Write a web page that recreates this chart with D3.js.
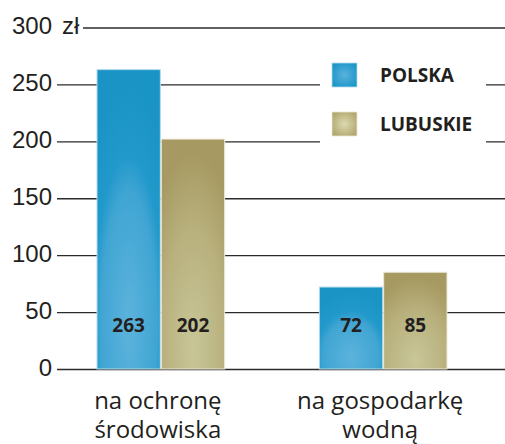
<!DOCTYPE html>
<html>
<head>
<meta charset="utf-8">
<script src="https://cdnjs.cloudflare.com/ajax/libs/d3/7.8.5/d3.min.js"></script>
<style>
	body { margin: 0; background: #fff; }
	svg { display: block; font-family: "Open Sans", sans-serif; }
	.tick line { stroke: #2b2b2b; stroke-width: 1.3px; }
	.tick text { fill: #231f20; font-size: 24px; }
</style>
</head>
<body>
<svg width="505" height="444"></svg>
<script>
var categories = [ [ 'na ochronę', 'środowiska' ], [ 'na gospodarkę', 'wodną' ] ];
var series = [ 'POLSKA', 'LUBUSKIE' ];
var polska = [ 263, 72 ];
var lubuskie = [ 202, 85 ];
var yTicks = [ 0, 50, 100, 150, 200, 250, 300 ];
var unit = 'zł';

var width = 505, height = 444;
var svg = d3.select( 'svg' );

var x = d3.scaleBand()
	.domain( d3.range( categories.length ) )
	.range( [ 97, 447 ] )
	.paddingInner( 0.426 )
	.paddingOuter( 0 );

var xs = d3.scaleBand()
	.domain( series )
	.range( [ 0, x.bandwidth() ] )
	.paddingInner( 0.015 );

var y = d3.scaleLinear()
	.domain( [ 0, 300 ] )
	.range( [ 369, 27.5 ] );

// gradients
var defs = svg.append( 'defs' );
function radial( id, cy, r, stops ) {
	var g = defs.append( 'radialGradient' )
		.attr( 'id', id )
		.attr( 'cx', 0.5 ).attr( 'cy', cy ).attr( 'r', r );
	stops.forEach( function( s ) {
		g.append( 'stop' ).attr( 'offset', s[0] ).attr( 'stop-color', s[1] );
	} );
}
radial( 'gBlue', 0.85, 0.8, [ [ 0, '#5cb3dc' ], [ 0.55, '#40a5d3' ], [ 0.7, '#2199cb' ], [ 1, '#1a93c5' ] ] );
radial( 'gTan', 0.9, 0.85, [ [ 0, '#c8c698' ], [ 0.6, '#b8b07d' ], [ 1, '#a69961' ] ] );
radial( 'sBlue', 0.5, 0.6, [ [ 0, '#5ab2dc' ], [ 1, '#1a95c8' ] ] );
radial( 'sTan', 0.5, 0.6, [ [ 0, '#dcdab0' ], [ 1, '#b0a56e' ] ] );
var fills = { 'POLSKA': 'url(#gBlue)', 'LUBUSKIE': 'url(#gTan)' };
var swatch = { 'POLSKA': 'url(#sBlue)', 'LUBUSKIE': 'url(#sTan)' };
var edge = { 'POLSKA': '#b5dcee', 'LUBUSKIE': '#ece9d6' };

// grid + tick labels
var axis = svg.append( 'g' )
	.attr( 'transform', 'translate(57,0)' )
	.call( d3.axisLeft( y )
		.tickValues( yTicks )
		.tickSize( -( width - 57 ) )
		.tickPadding( 5 ) );
axis.select( '.domain' ).remove();
axis.selectAll( '.tick text' ).attr( 'dy', '0.25em' );
axis.selectAll( '.tick' ).filter( function( d ) { return d === 300; } )
	.each( function() {
		d3.select( this ).select( 'line' ).attr( 'x1', 26 );
		d3.select( this ).append( 'text' )
			.attr( 'x', 5 ).attr( 'dy', '0.25em' )
			.attr( 'text-anchor', 'start' )
			.text( unit );
	} );

// legend background hides grid
svg.append( 'rect' )
	.attr( 'x', 320 ).attr( 'y', 45 )
	.attr( 'width', 166 ).attr( 'height', 115 )
	.attr( 'fill', '#fff' );

// bars
var groups = svg.selectAll( '.group' )
	.data( categories )
	.enter().append( 'g' )
		.attr( 'class', 'group' )
		.attr( 'transform', function( d, i ) { return 'translate(' + x( i ) + ',0)'; } );

groups.each( function( d, i ) {
	var vals = [ { s: 'POLSKA', v: polska[i] }, { s: 'LUBUSKIE', v: lubuskie[i] } ];
	var g = d3.select( this );
	g.selectAll( 'rect' )
		.data( vals )
		.enter().append( 'rect' )
			.attr( 'x', function( e ) { return xs( e.s ); } )
			.attr( 'y', function( e ) { return y( e.v ); } )
			.attr( 'width', xs.bandwidth() )
			.attr( 'height', function( e ) { return y( 0 ) - y( e.v ); } )
			.attr( 'fill', function( e ) { return fills[e.s]; } )
			.attr( 'stroke', function( e ) { return edge[e.s]; } )
			.attr( 'stroke-width', 1 );
	g.selectAll( '.val' )
		.data( vals )
		.enter().append( 'text' )
			.attr( 'class', 'val' )
			.attr( 'x', function( e ) { return xs( e.s ) + xs.bandwidth() / 2; } )
			.attr( 'y', 332 )
			.attr( 'text-anchor', 'middle' )
			.attr( 'font-size', 19 )
			.attr( 'font-weight', 'bold' )
			.attr( 'fill', '#231f20' )
			.text( function( e ) { return e.v; } );
	// two-line category label, one text per line
	d.forEach( function( line, k ) {
		g.append( 'text' )
			.attr( 'x', x.bandwidth() / 2 - 3 )
			.attr( 'y', 409 + k * 29 )
			.attr( 'text-anchor', 'middle' )
			.attr( 'font-size', 24 )
			.attr( 'fill', '#231f20' )
			.text( line );
	} );
} );

// legend
var legend = svg.selectAll( '.legend' )
	.data( series )
	.enter().append( 'g' )
		.attr( 'class', 'legend' )
		.attr( 'transform', function( d, i ) { return 'translate(332,' + ( 63 + i * 49 ) + ')'; } );
legend.append( 'rect' )
	.attr( 'width', 25 ).attr( 'height', 24 )
	.attr( 'fill', function( d ) { return swatch[d]; } )
	.attr( 'stroke', function( d ) { return edge[d]; } )
	.attr( 'stroke-width', 0.8 );
legend.append( 'text' )
	.attr( 'x', 48 ).attr( 'y', 19 )
	.attr( 'font-size', 19 )
	.attr( 'font-weight', 'bold' )
	.attr( 'fill', '#231f20' )
	.text( function( d ) { return d; } );
</script>
</body>
</html>
